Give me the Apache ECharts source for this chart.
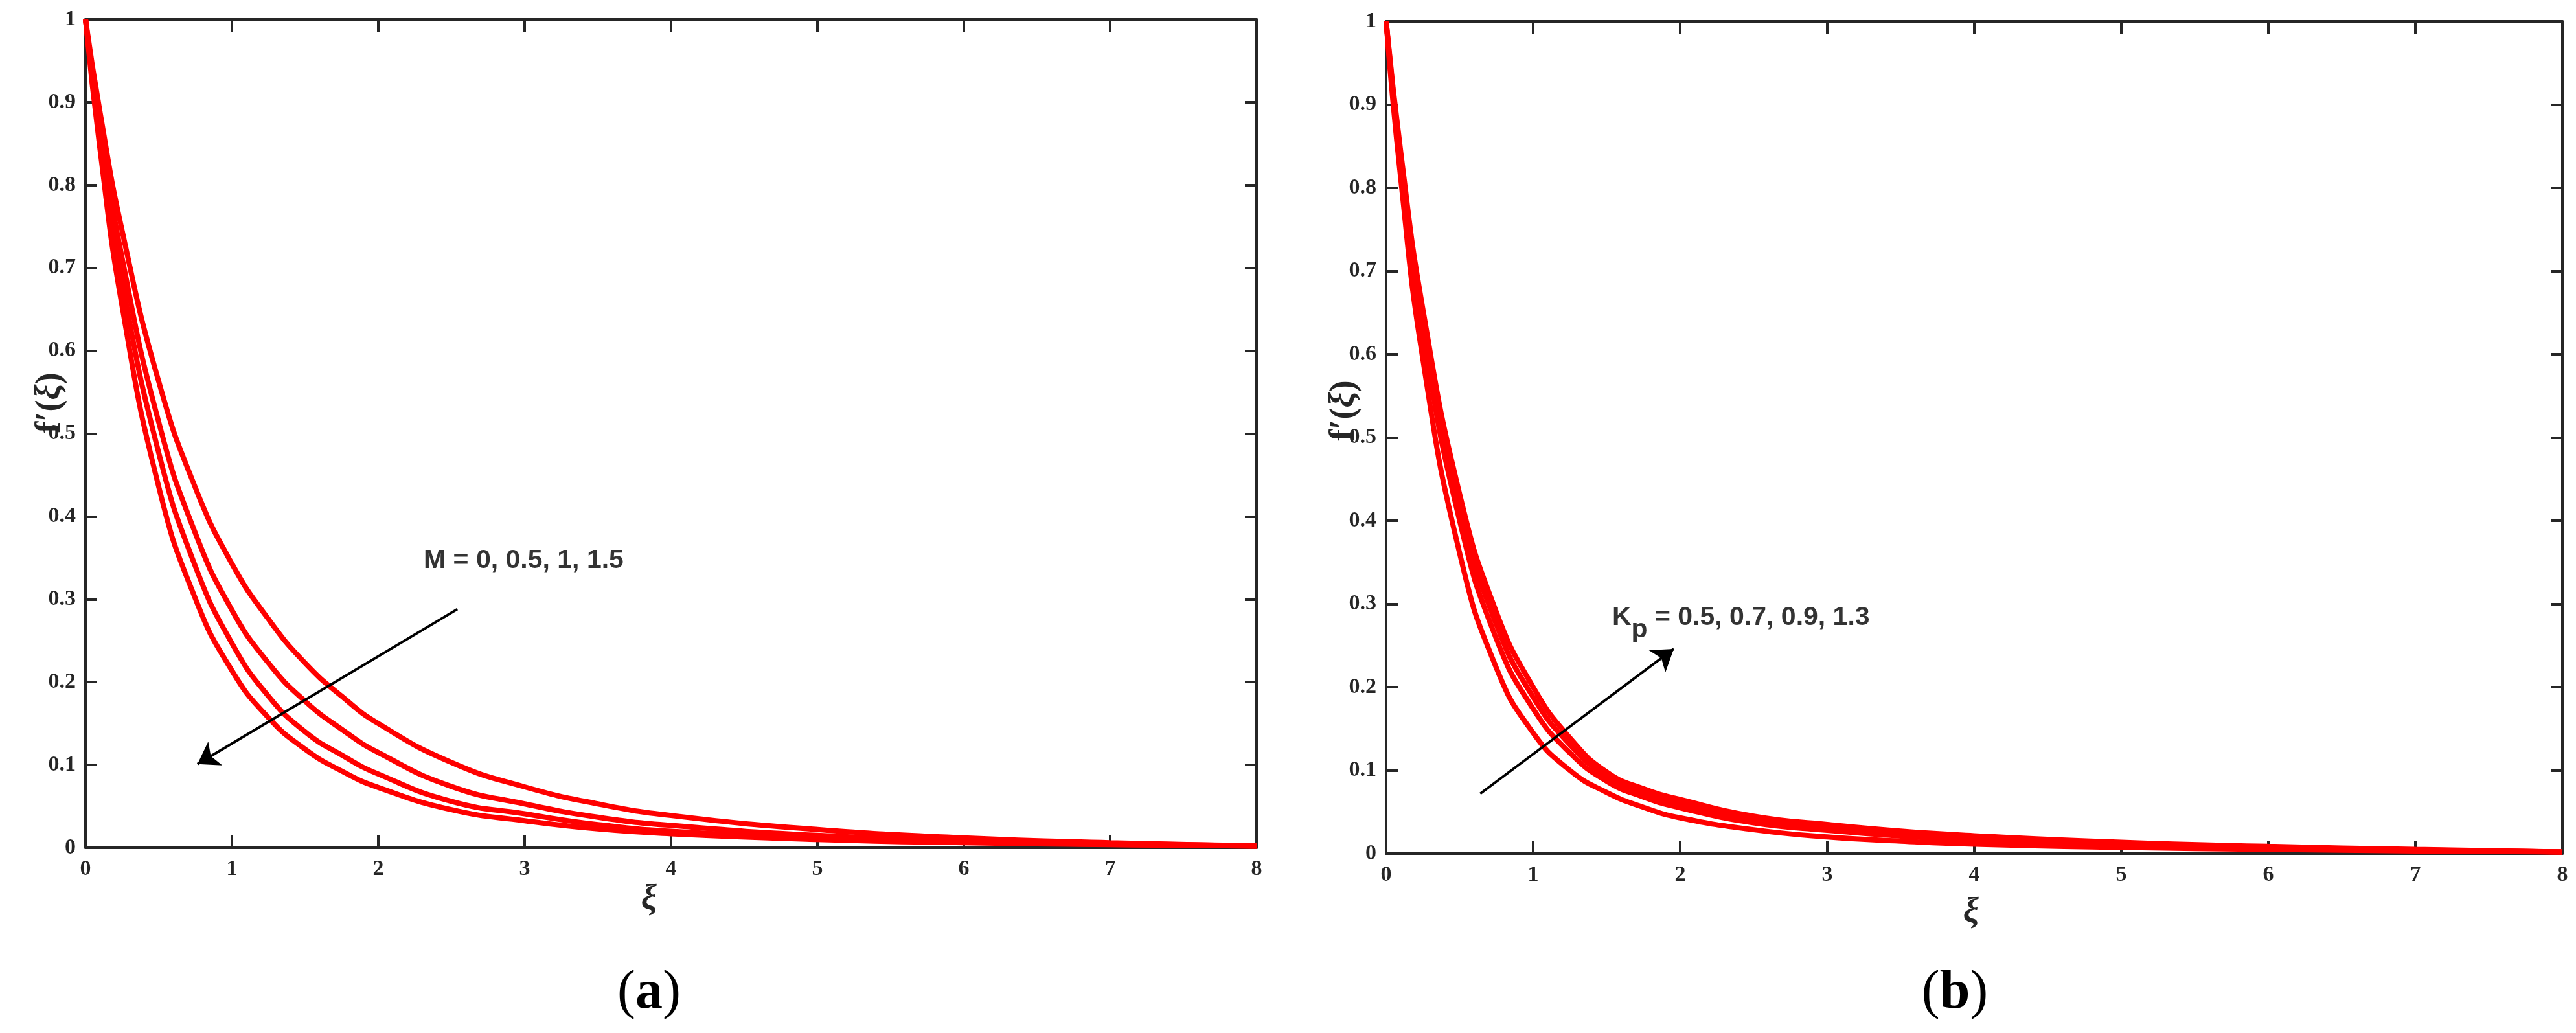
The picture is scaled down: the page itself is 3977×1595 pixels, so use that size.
<!DOCTYPE html>
<html><head><meta charset="utf-8">
<script src="https://cdn.jsdelivr.net/npm/echarts@6/dist/echarts.min.js"></script>
<style>html,body{margin:0;padding:0;background:#fff}#c{width:3977px;height:1595px}</style>
</head><body><div id="c"></div>
<script>
// ---- data ----
const xi = [0, 0.1, 0.25, 0.5, 0.75, 1, 1.25, 1.5, 1.75, 2, 2.5, 3, 3.5, 4, 5, 6, 7, 8];
// panel (a): f'(xi) for M = 0, 0.5, 1, 1.5
const fM0   = [1, 0.887, 0.745, 0.563, 0.435, 0.343, 0.276, 0.223, 0.183, 0.150, 0.103, 0.0735, 0.053, 0.039, 0.022, 0.012, 0.006, 0.002];
const fM05  = [1, 0.871, 0.712, 0.514, 0.380, 0.287, 0.223, 0.177, 0.143, 0.115, 0.074, 0.053, 0.037, 0.027, 0.015, 0.0087, 0.005, 0.0025];
const fM1   = [1, 0.856, 0.684, 0.477, 0.340, 0.247, 0.183, 0.140, 0.112, 0.089, 0.056, 0.041, 0.028, 0.020, 0.012, 0.007, 0.004, 0.002];
const fM15  = [1, 0.842, 0.654, 0.436, 0.301, 0.214, 0.157, 0.119, 0.0926, 0.0728, 0.046, 0.0327, 0.0228, 0.0169, 0.010, 0.006, 0.0037, 0.002];
// panel (b): f'(xi) for Kp = 0.5, 0.7, 0.9, 1.3
const fK05  = [1, 0.810, 0.594, 0.361, 0.223, 0.145, 0.100, 0.0735, 0.0557, 0.043, 0.0287, 0.020, 0.015, 0.0113, 0.0074, 0.0051, 0.0032, 0.002];
const fK07  = [1, 0.827, 0.627, 0.400, 0.258, 0.174, 0.121, 0.087, 0.068, 0.055, 0.037, 0.028, 0.021, 0.016, 0.0105, 0.0068, 0.004, 0.002];
const fK09  = [1, 0.835, 0.642, 0.418, 0.275, 0.188, 0.131, 0.093, 0.074, 0.060, 0.041, 0.031, 0.024, 0.019, 0.012, 0.0078, 0.0045, 0.002];
const fK13  = [1, 0.842, 0.654, 0.432, 0.290, 0.200, 0.139, 0.098, 0.078, 0.065, 0.045, 0.035, 0.027, 0.0215, 0.0136, 0.0087, 0.005, 0.002];
const xTicks = ['0','1','2','3','4','5','6','7','8'];
const yTicks = ['0','0.1','0.2','0.3','0.4','0.5','0.6','0.7','0.8','0.9','1'];
// annotations
const arrowA = [[2.54, 0.288], [0.765, 0.101]];
const arrowB = [[0.64, 0.072], [1.956, 0.246]];
const labelA = [2.31, 0.3464];
const labelB = [1.537, 0.2833];

const AX = '#262626';
const tickFont = {fontFamily: 'Liberation Serif', fontWeight: 'bold', fontSize: 34, color: AX};
const zip = (xs, ys) => xs.map((x, i) => [x, ys[i]]);

function xAx(grid, pos) {
  const main = pos === 'bottom';
  return {
    type: 'value', gridIndex: grid, position: pos, min: 0, max: 8, interval: 1,
    axisLine: {show: true, onZero: false, lineStyle: {color: AX, width: 4}},
    axisTick: {show: true, inside: true, length: 20, lineStyle: {color: AX, width: 4}},
    axisLabel: main ? Object.assign({show: true, margin: 16, formatter: v => xTicks[Math.round(v)]}, tickFont) : {show: false},
    splitLine: {show: false}
  };
}
function yAx(grid, pos) {
  const main = pos === 'left';
  return {
    type: 'value', gridIndex: grid, position: pos, min: 0, max: 1, interval: 0.1,
    axisLine: {show: true, onZero: false, lineStyle: {color: AX, width: 4}},
    axisTick: {show: true, inside: true, length: 18, lineStyle: {color: AX, width: 4}},
    axisLabel: main ? Object.assign({show: true, margin: 15, formatter: v => yTicks[Math.round(v * 10)]}, tickFont) : {show: false},
    splitLine: {show: false}
  };
}
function curve(data, xi_, yi_) {
  return {type: 'line', xAxisIndex: xi_, yAxisIndex: yi_, data: data, showSymbol: false, symbol: 'none',
    smooth: 0.5, silent: true, lineStyle: {color: '#ff0000', width: 8}, z: 3};
}
function arrow(coords, xi_, yi_) {
  return {type: 'lines', coordinateSystem: 'cartesian2d', xAxisIndex: xi_, yAxisIndex: yi_, silent: true,
    symbol: ['none', 'arrow'], symbolSize: 32, z: 4,
    lineStyle: {color: '#000', width: 4, opacity: 1, curveness: 0},
    data: [{coords: coords}]};
}
function note(pt, text, rich, xi_, yi_) {
  return {type: 'scatter', xAxisIndex: xi_, yAxisIndex: yi_, symbolSize: 0, silent: true, z: 5,
    data: [pt],
    label: {show: true, position: [0, 0], align: 'left', verticalAlign: 'middle', formatter: text, rich: rich}};
}
const sansB = {fontFamily: 'Liberation Sans', fontWeight: 'bold', fontSize: 41, color: '#000'};
const serifRich = {
  a: {fontFamily: 'Liberation Serif', fontWeight: 'bold', fontSize: 54, fill: AX},
  b: {fontFamily: 'Liberation Serif', fontWeight: 'bold', fontStyle: 'italic', fontSize: 54, fill: AX}
};
const capRich = {
  p: {fontFamily: 'Liberation Serif', fontSize: 84, fill: '#000'},
  b: {fontFamily: 'Liberation Serif', fontWeight: 'bold', fontSize: 84, fill: '#000'}
};
function txt(x, y, text, rich, rot) {
  return {type: 'text', x: x, y: y, rotation: rot || 0, silent: true,
    style: {text: text, rich: rich, align: 'center', verticalAlign: 'middle'}};
}

const chart = echarts.init(document.getElementById('c'), null, {renderer: 'canvas'});
chart.setOption({
  animation: false,
  backgroundColor: '#fff',
  grid: [
    {left: 132, top: 30, width: 1808, height: 1279, containLabel: false},
    {left: 2140, top: 33, width: 1816, height: 1285, containLabel: false}
  ],
  xAxis: [xAx(0, 'bottom'), xAx(0, 'top'), xAx(1, 'bottom'), xAx(1, 'top')],
  yAxis: [yAx(0, 'left'), yAx(0, 'right'), yAx(1, 'left'), yAx(1, 'right')],
  series: [
    curve(zip(xi, fM0), 0, 0), curve(zip(xi, fM05), 0, 0), curve(zip(xi, fM1), 0, 0), curve(zip(xi, fM15), 0, 0),
    curve(zip(xi, fK05), 2, 2), curve(zip(xi, fK07), 2, 2), curve(zip(xi, fK09), 2, 2), curve(zip(xi, fK13), 2, 2),
    arrow(arrowA, 0, 0), arrow(arrowB, 2, 2),
    note(labelA, '{t|M = 0, 0.5, 1, 1.5}', {t: sansB}, 0, 0),
    note(labelB, '{t|K}{s|p}{t| = 0.5, 0.7, 0.9, 1.3}', {t: sansB,
      s: Object.assign({}, sansB, {padding: [38, 0, 0, 0]})}, 2, 2)
  ],
  graphic: [
    txt(78, 622, '{a|f′(}{b|ξ}{a|)}', serifRich, Math.PI / 2),
    txt(2076, 634, '{a|f′(}{b|ξ}{a|)}', serifRich, Math.PI / 2),
    txt(1002, 1390, '{b|ξ}', serifRich),
    txt(3043, 1410, '{b|ξ}', serifRich),
    txt(1002, 1534, '{p|(}{b|a}{p|)}', capRich),
    txt(3018, 1534, '{p|(}{b|b}{p|)}', capRich)
  ]
});
</script>
</body></html>
